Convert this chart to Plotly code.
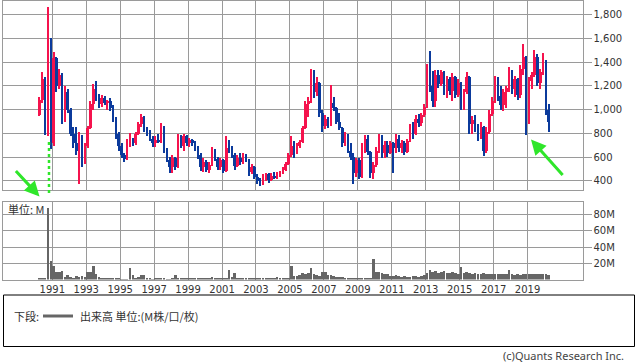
import numpy as np
import pandas as pd
import plotly.graph_objects as go

W, H = 638, 362

# Bi-monthly candles, first = Mar-Apr 1990, last = Mar-Apr 2020 (one row per year)
open_ = [
    [960, 1090, 1260, 830, 1600],
    [720, 1440, 1200, 1300, 920, 1150],
    [1000, 800, 720, 660, 780, 560],
    [700, 850, 1050, 1180, 1120, 1050],
    [1100, 1060, 1080, 1020, 930, 800],
    [700, 620, 590, 740, 760, 720],
    [800, 880, 940, 840, 810, 760],
    [720, 750, 730, 860, 660, 580],
    [520, 600, 520, 760, 700, 780],
    [720, 750, 720, 680, 620, 520],
    [560, 500, 540, 660, 590, 520],
    [580, 490, 680, 660, 620, 530],
    [600, 560, 620, 580, 480, 520],
    [440, 400, 380, 430, 460, 410],
    [450, 430, 470, 480, 500, 550],
    [620, 700, 640, 700, 730, 850],
    [1050, 1080, 1300, 1150, 1230, 980],
    [870, 930, 880, 1060, 1020, 900],
    [850, 720, 790, 660, 610, 470],
    [580, 440, 700, 760, 650, 470],
    [540, 660, 760, 640, 710, 640],
    [720, 680, 760, 680, 720, 650],
    [740, 860, 800, 930, 890, 960],
    [1030, 1360, 1200, 1080, 1300, 1220],
    [1320, 1160, 1260, 1160, 1280, 1130],
    [1230, 1040, 1150, 1280, 880, 920],
    [850, 780, 860, 660, 820, 970],
    [1080, 1250, 1120, 1040, 1150, 1190],
    [1320, 1180, 1260, 1130, 1350, 1450],
    [900, 1250, 1300, 1450, 1230, 1320],
    [1410, 1000],
]
high = [
    [1110, 1320, 1280, 1870, 1610],
    [1490, 1450, 1350, 1310, 1200, 1180],
    [1020, 860, 860, 820, 790, 720],
    [870, 1080, 1220, 1245, 1140, 1130],
    [1120, 1090, 1100, 1040, 940, 820],
    [720, 640, 760, 810, 770, 820],
    [900, 965, 950, 860, 830, 780],
    [780, 800, 890, 870, 680, 610],
    [620, 610, 800, 790, 800, 790],
    [770, 760, 740, 700, 640, 600],
    [580, 560, 690, 670, 610, 600],
    [590, 780, 750, 700, 640, 620],
    [640, 640, 630, 590, 550, 530],
    [460, 430, 460, 470, 470, 470],
    [480, 480, 490, 520, 560, 640],
    [780, 740, 720, 750, 870, 1080],
    [1110, 1350, 1340, 1280, 1240, 1000],
    [960, 940, 1210, 1110, 1030, 980],
    [860, 820, 800, 720, 640, 600],
    [600, 720, 790, 790, 660, 560],
    [690, 800, 790, 740, 740, 740],
    [730, 800, 790, 750, 740, 760],
    [880, 900, 960, 970, 980, 1050],
    [1390, 1500, 1330, 1340, 1340, 1340],
    [1330, 1290, 1280, 1310, 1290, 1260],
    [1240, 1180, 1320, 1290, 950, 960],
    [880, 900, 870, 860, 1000, 1110],
    [1290, 1280, 1200, 1180, 1200, 1360],
    [1340, 1290, 1270, 1380, 1556, 1460],
    [1280, 1320, 1510, 1470, 1350, 1480],
    [1420, 1050],
]
low = [
    [950, 1060, 790, 780, 670],
    [700, 1150, 1180, 880, 900, 980],
    [780, 680, 620, 380, 520, 550],
    [680, 840, 1000, 1080, 1020, 1030],
    [1040, 1000, 990, 900, 760, 660],
    [600, 560, 580, 690, 700, 710],
    [790, 860, 820, 780, 740, 690],
    [690, 720, 720, 640, 560, 470],
    [470, 500, 510, 680, 660, 700],
    [690, 700, 660, 590, 490, 480],
    [480, 470, 530, 570, 500, 500],
    [470, 480, 640, 600, 500, 520],
    [540, 550, 560, 450, 460, 420],
    [380, 360, 370, 400, 390, 400],
    [420, 420, 440, 460, 490, 540],
    [610, 600, 630, 680, 720, 840],
    [940, 1060, 1100, 1120, 940, 820],
    [840, 850, 870, 990, 880, 830],
    [690, 700, 640, 580, 375, 440],
    [420, 430, 640, 620, 430, 420],
    [520, 640, 600, 600, 610, 630],
    [470, 640, 650, 640, 620, 640],
    [730, 760, 790, 860, 870, 940],
    [1020, 1150, 1030, 1030, 1190, 1200],
    [1130, 1100, 1130, 1080, 1100, 1110],
    [1000, 1000, 1140, 800, 800, 820],
    [740, 760, 615, 640, 800, 950],
    [1060, 1080, 1000, 990, 1020, 1150],
    [1140, 1110, 1090, 1100, 1300, 790],
    [880, 1180, 1280, 1200, 1180, 1300],
    [960, 820],
]
close = [
    [1090, 1260, 830, 1600, 720],
    [1440, 1200, 1300, 920, 1150, 1000],
    [800, 720, 660, 780, 560, 700],
    [850, 1050, 1180, 1120, 1050, 1100],
    [1060, 1080, 1020, 930, 800, 700],
    [620, 590, 740, 760, 720, 800],
    [880, 940, 840, 810, 760, 720],
    [750, 730, 860, 660, 580, 520],
    [600, 520, 760, 700, 780, 720],
    [750, 720, 680, 620, 520, 560],
    [500, 540, 660, 590, 520, 580],
    [490, 680, 660, 620, 530, 600],
    [560, 620, 580, 480, 520, 440],
    [400, 380, 430, 460, 410, 450],
    [430, 470, 480, 500, 550, 620],
    [700, 640, 700, 730, 850, 1050],
    [1080, 1300, 1150, 1230, 980, 870],
    [930, 880, 1060, 1020, 900, 850],
    [720, 790, 660, 610, 470, 580],
    [440, 700, 760, 650, 470, 540],
    [660, 760, 640, 710, 640, 720],
    [680, 760, 680, 720, 650, 740],
    [860, 800, 930, 890, 960, 1030],
    [1360, 1200, 1080, 1300, 1220, 1320],
    [1160, 1260, 1160, 1280, 1130, 1230],
    [1040, 1150, 1280, 880, 920, 850],
    [780, 860, 660, 820, 970, 1080],
    [1250, 1120, 1040, 1150, 1190, 1320],
    [1180, 1260, 1130, 1350, 1450, 900],
    [1250, 1300, 1450, 1230, 1320, 1440],
    [1000, 900],
]
volume_m = [
    [3, 3, 2, 89, 24],
    [17, 10, 10, 11, 4, 6],
    [4, 3, 5, 4, 5, 4],
    [10, 10, 17, 8, 4, 3],
    [3, 3, 2, 2, 2, 3],
    [1, 1, 1, 15, 6, 3],
    [4, 6, 6, 2, 2, 1],
    [2, 3, 2, 2, 1, 1],
    [2, 6, 3, 2, 2, 3],
    [2, 3, 3, 2, 3, 2],
    [3, 3, 4, 2, 2, 2],
    [2, 3, 12, 4, 9, 3],
    [3, 3, 2, 2, 2, 2],
    [2, 2, 2, 2, 3, 3],
    [3, 4, 3, 3, 3, 3],
    [17, 5, 5, 6, 9, 8],
    [9, 15, 8, 6, 5, 10],
    [10, 6, 6, 5, 4, 4],
    [4, 3, 3, 3, 3, 2],
    [2, 2, 2, 3, 3, 26],
    [10, 10, 9, 8, 7, 5],
    [5, 6, 5, 4, 5, 4],
    [4, 5, 5, 4, 5, 6],
    [9, 12, 10, 11, 9, 10],
    [11, 9, 9, 10, 9, 8],
    [16, 9, 10, 9, 8, 9],
    [8, 8, 9, 8, 7, 8],
    [8, 8, 8, 7, 7, 12],
    [7, 6, 7, 6, 7, 7],
    [7, 7, 7, 8, 7, 8],
    [8, 6],
]
price_ticks = [400, 600, 800, 1000, 1200, 1400, 1600, 1800]
vol_ticks = [20, 40, 60, 80]
vol_tick_labels = ["20M", "40M", "60M", "80M"]
year_labels = ["1991", "1993", "1995", "1997", "1999", "2001", "2003", "2005",
               "2007", "2009", "2011", "2013", "2015", "2017", "2019"]

flat = lambda rows: np.array([v for r in rows for v in r], dtype=float)
o, h, l, c, v = flat(open_), flat(high), flat(low), flat(close), flat(volume_m)
dates = pd.date_range("1990-04-01", periods=len(c), freq="2MS")
year_ticks = [f"{y}-01-01" for y in year_labels]

RED, BLUE = "#f5134d", "#0b3a9c"
colors = [RED if cc >= oo else BLUE for oo, cc in zip(o, c)]
DAY = 86400000

fig = go.Figure()
fig.add_trace(go.Bar(x=dates, base=l, y=h - l, width=26 * DAY, marker=dict(color=colors, line_width=0),
                     xaxis="x", yaxis="y", hoverinfo="skip"))
body_lo = np.minimum(o, c)
body_h = np.maximum(np.abs(c - o), 6)
fig.add_trace(go.Bar(x=dates, base=body_lo, y=body_h, width=56 * DAY, marker=dict(color=colors, line_width=0),
                     xaxis="x", yaxis="y", hoverinfo="skip"))
fig.add_trace(go.Bar(x=dates, y=v, width=56 * DAY, marker=dict(color="#666666", line_width=0),
                     xaxis="x2", yaxis="y2", hoverinfo="skip"))

px = lambda x: x / W
py = lambda y: 1 - y / H
GRID = "#9a9a9a"
TXT = "#333333"
xdom = [px(3), px(582.5)]
xr = ["1988-02-06", "2022-03-28"]
common_x = dict(type="date", range=xr, domain=xdom, showgrid=True, gridcolor=GRID, gridwidth=1,
                tickmode="array", tickvals=year_ticks, ticktext=year_labels,
                showline=True, linecolor=GRID, mirror=True, ticks="", zeroline=False)
fig.update_layout(
    width=W, height=H, margin=dict(l=0, r=0, t=0, b=0),
    paper_bgcolor="white", plot_bgcolor="white", showlegend=False,
    barmode="overlay", bargap=0,
    font=dict(family="DejaVu Sans", size=10, color=TXT),
    xaxis=dict(**common_x, anchor="y", showticklabels=False),
    xaxis2=dict(**common_x, anchor="y2", showticklabels=True,
                tickfont=dict(size=10, color=TXT, family="DejaVu Sans")),
    yaxis=dict(domain=[py(190), py(0.5)], range=[324, 1920], side="right", tickvals=price_ticks,
               tickformat=",d", ticks="outside", ticklen=8, tickcolor=GRID, showgrid=True,
               gridcolor=GRID, showline=True, linecolor=GRID, mirror=True, zeroline=False,
               tickfont=dict(size=10, color=TXT), anchor="x"),
    yaxis2=dict(domain=[py(279.5), py(201.5)], range=[0, 96], side="right", tickvals=vol_ticks,
                ticktext=vol_tick_labels, ticks="outside", ticklen=8, tickcolor=GRID, showgrid=True,
                gridcolor=GRID, showline=True, linecolor=GRID, mirror=True, zeroline=False,
                tickfont=dict(size=10, color=TXT), anchor="x2"),
)

GREEN = "#2fe62a"
CJK = "Noto Sans CJK JP"
fig.add_annotation(x=px(6), y=py(209), xref="paper", yref="paper", text="単位: M", showarrow=False,
                   xanchor="left", yanchor="middle", font=dict(family=CJK, size=11, color=TXT))
# green markers
fig.add_shape(type="line", xref="paper", yref="paper", x0=px(49), x1=px(49), y0=py(142), y1=py(193),
              line=dict(color=GREEN, width=2.5, dash="dot"))
fig.add_annotation(x=px(39.5), y=py(196.5), xref="paper", yref="paper", text="", showarrow=True,
                   ax=-25, ay=-27, arrowhead=2, arrowsize=1, arrowwidth=3, arrowcolor=GREEN)
fig.add_annotation(x=px(531), y=py(139.5), xref="paper", yref="paper", text="", showarrow=True,
                   ax=33, ay=37, arrowhead=2, arrowsize=1, arrowwidth=3, arrowcolor=GREEN)
# legend box
fig.add_shape(type="rect", xref="paper", yref="paper", x0=px(3.5), x1=px(634.5), y0=py(346.5), y1=py(295),
              line=dict(color="black", width=1), fillcolor="rgba(0,0,0,0)")
fig.add_annotation(x=px(12), y=py(316), xref="paper", yref="paper", text="下段:", showarrow=False,
                   xanchor="left", yanchor="middle", font=dict(family=CJK, size=11, color=TXT))
fig.add_shape(type="line", xref="paper", yref="paper", x0=px(43), x1=px(73), y0=py(316), y1=py(316),
              line=dict(color="#666666", width=3))
fig.add_annotation(x=px(78), y=py(316), xref="paper", yref="paper", text="出来高 単位:(M株/口/枚)",
                   showarrow=False, xanchor="left", yanchor="middle",
                   font=dict(family=CJK, size=11, color=TXT))
fig.add_annotation(x=px(626), y=py(355), xref="paper", yref="paper", text="(c)Quants Research Inc.",
                   showarrow=False, xanchor="right", yanchor="middle",
                   font=dict(family="Noto Sans", size=11, color="#444444"))

fig.write_html("out.html", config={"displayModeBar": False},
               post_script="document.body.style.margin='0';document.body.style.overflow='hidden';")
